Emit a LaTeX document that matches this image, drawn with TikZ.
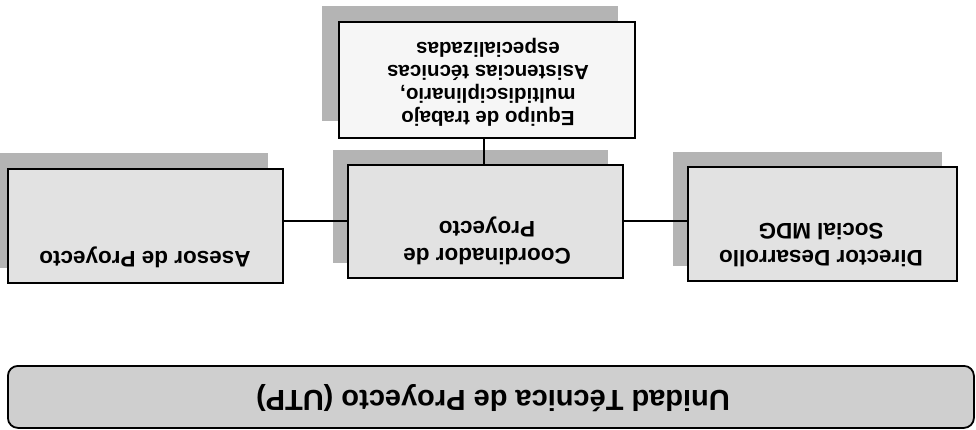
\documentclass[tikz,border=0pt]{standalone}
\usepackage{fontspec}
\setmainfont{Liberation Sans}
\begin{document}
\begin{tikzpicture}[x=1pt,y=-1pt,
  box/.style={draw=black,line width=2.2pt,fill=boxgray},
  lbl/.style={rotate=180,font=\bfseries\fontsize{22.5}{27}\selectfont,align=center,inner sep=0pt},
  conn/.style={draw=black,line width=1.6pt}]
\definecolor{boxgray}{HTML}{E2E2E2}
\definecolor{shadowgray}{HTML}{B4B4B4}
\definecolor{bannergray}{HTML}{CFCFCF}
\definecolor{whitebox}{HTML}{F6F6F6}
\useasboundingbox (0,0) rectangle (976,430);
\fill[white] (0,0) rectangle (976,430);
% shadows
\fill[shadowgray] (322,6) rectangle (618,121);
\fill[shadowgray] (0,153) rectangle (268,268);
\fill[shadowgray] (333,150) rectangle (608,263);
\fill[shadowgray] (673,152) rectangle (942,266);
% boxes
\node[box,fill=whitebox,minimum width=296pt,minimum height=116pt,anchor=north west,inner sep=0pt] (equipo) at (338,21) {};
\node[box,minimum width=275pt,minimum height=114pt,anchor=north west,inner sep=0pt] (asesor) at (7,168) {};
\node[box,minimum width=275pt,minimum height=113pt,anchor=north west,inner sep=0pt] (coord) at (347,164) {};
\node[box,minimum width=269pt,minimum height=114pt,anchor=north west,inner sep=0pt] (director) at (687,166) {};
% labels
\node[lbl,font=\bfseries\fontsize{20.5}{23}\selectfont] (tequipo) at (488,82) {Equipo de trabajo\\multidisciplinario,\\Asistencias técnicas\\especializadas};
\node[lbl] (tasesor) at (145,257) {Asesor de Proyecto};
\node[lbl] (tcoord) at (487,241) {Coordinador de\\Proyecto};
\node[lbl] (tdirector) at (821,245) {Director Desarrollo\\Social MDG};
% connectors
\draw[conn] (equipo.south -| 484,0) -- (coord.north -| 484,0);
\coordinate (ya) at (0,221);
\draw[conn] (asesor.east |- ya) -- (coord.west |- ya);
\draw[conn] (coord.east |- ya) -- (director.west |- ya);
% banner
\node[draw=black,line width=1.8pt,fill=bannergray,rounded corners=10pt,minimum width=966pt,minimum height=62pt,anchor=north west,inner sep=0pt] (banner) at (7,365) {};
\node[rotate=180,font=\bfseries\fontsize{29}{34}\selectfont,inner sep=0pt] (tbanner) at (493,398) {Unidad Técnica de Proyecto (UTP)};
\end{tikzpicture}
\end{document}
